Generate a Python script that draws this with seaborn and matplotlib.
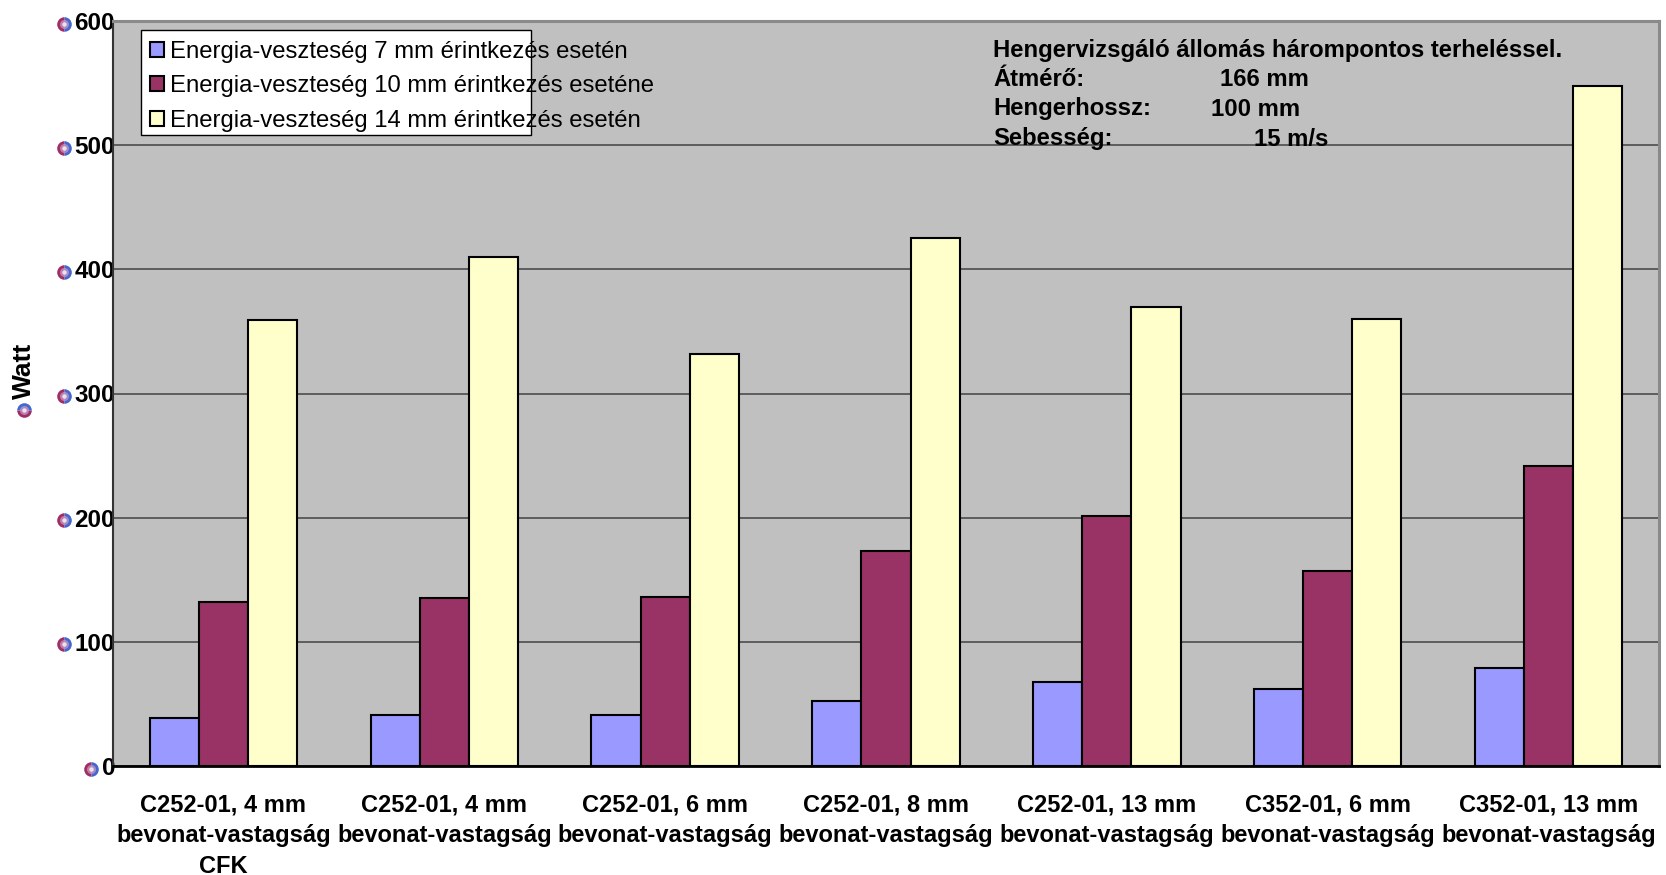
import matplotlib
matplotlib.use("Agg")
import matplotlib.pyplot as plt
from matplotlib.lines import Line2D
from matplotlib.patches import Rectangle
import seaborn as sns
import pandas as pd

# ---- data -------------------------------------------------------------
categories = [
    "C252-01, 4 mm\nbevonat-vastagság\nCFK",
    "C252-01, 4 mm\nbevonat-vastagság",
    "C252-01, 6 mm\nbevonat-vastagság",
    "C252-01, 8 mm\nbevonat-vastagság",
    "C252-01, 13 mm\nbevonat-vastagság",
    "C352-01, 6 mm\nbevonat-vastagság",
    "C352-01, 13 mm\nbevonat-vastagság",
]
series_names = [
    "Energia-veszteség 7 mm érintkezés esetén",
    "Energia-veszteség 10 mm érintkezés eseténe",
    "Energia-veszteség 14 mm érintkezés esetén",
]
loss_7mm = [39, 41, 41, 52, 68, 62, 79]
loss_10mm = [132, 135, 136, 173, 201, 157, 242]
loss_14mm = [359, 410, 332, 425, 370, 360, 548]
y_ticks = [0, 100, 200, 300, 400, 500, 600]
colors = ["#9999FF", "#993366", "#FFFFCC"]

info_lines = [
    ("Hengervizsgáló állomás hárompontos terheléssel.", ""),
    ("Átmérő:", "166 mm"),
    ("Hengerhossz:", "100 mm"),
    ("Sebesség:", "15 m/s"),
]

rows = []
for name, vals in zip(series_names, [loss_7mm, loss_10mm, loss_14mm]):
    for cat, v in zip(categories, vals):
        rows.append({"kategoria": cat, "sorozat": name, "Watt": v})
df = pd.DataFrame(rows)

# ---- style ------------------------------------------------------------
sns.set_style("white")
plt.rcParams["font.family"] = ["Liberation Sans", "DejaVu Sans"]
for key in ("text.color", "axes.labelcolor", "xtick.color", "ytick.color"):
    plt.rcParams[key] = "black"

W, H = 1666, 875
fig = plt.figure(figsize=(W / 100, H / 100), dpi=100)
ax_l, ax_r, ax_t, ax_b = 113, 1659, 21, 766
ax = fig.add_axes([ax_l / W, 1 - ax_b / H, (ax_r - ax_l) / W, (ax_b - ax_t) / H])
ax.set_facecolor("#C0C0C0")

sns.barplot(
    data=df, x="kategoria", y="Watt", hue="sorozat",
    order=categories, hue_order=series_names, palette=colors,
    width=0.667, gap=0, edgecolor="black", linewidth=1.5,
    saturation=1, ax=ax, legend=False, errorbar=None,
)

ax.set_xlim(-0.5, len(categories) - 0.5)
ax.set_ylim(0, 600)
ax.set_yticks(y_ticks)
ax.yaxis.grid(True, color="#555555", linewidth=1.3)
ax.set_axisbelow(True)

# spines
for side in ("top", "right"):
    ax.spines[side].set_color("#8A8A8A")
    ax.spines[side].set_linewidth(2.2)
ax.spines["left"].set_color("#333333")
ax.spines["left"].set_linewidth(1.5)
ax.spines["bottom"].set_color("black")
ax.spines["bottom"].set_linewidth(2)

# ticks and labels
ax.set_xlabel("")
ax.set_xticks(range(len(categories)))
ax.set_xticklabels(categories, fontsize=17, fontweight="bold", linespacing=1.45)
ax.tick_params(axis="x", which="major", length=0, pad=19.5)
ax.set_xticks([i - 0.5 for i in range(len(categories) + 1)], minor=True)
ax.tick_params(axis="x", which="minor", length=6, width=1.2, color="black",
               direction="out")
ax.set_yticklabels([str(t) for t in y_ticks], fontsize=17.5, fontweight="bold")
ax.tick_params(axis="y", length=0, pad=-1.5)

ax.set_ylabel("Watt", fontsize=19, fontweight="bold")
ax.yaxis.set_label_coords(-0.0575, 0.530)
ax.yaxis.label.set_va("center")

# legend box with entries
ax.add_patch(Rectangle((0.0181, 0.847), 0.2523, 0.1409, transform=ax.transAxes,
                       facecolor="white", edgecolor="black", linewidth=1.0,
                       zorder=4))
handles = [Rectangle((0, 0), 1, 1, facecolor=c, edgecolor="black", linewidth=1.5)
           for c in colors]
leg = ax.legend(handles, series_names, loc="upper left",
                bbox_to_anchor=(0.0239, 0.9735), frameon=False,
                fontsize=17.2, handlelength=0.58, handleheight=0.58,
                handletextpad=0.28, labelspacing=0.52, borderpad=0,
                borderaxespad=0)
leg.set_zorder(5)

# test setup description
label_x = 993
value_x = [None, 1220, 1211, 1254]
line_y = [50, 79, 109, 139]
for (lab, val), vx, ly in zip(info_lines, value_x, line_y):
    fig.text(label_x / W, 1 - ly / H, lab, fontsize=17.2, fontweight="bold",
             va="center", ha="left")
    if val:
        fig.text(vx / W, 1 - ly / H, val, fontsize=17.2, fontweight="bold",
                 va="center", ha="left")

# bullet spheres in front of the value labels and the axis title
fig.canvas.draw()
renderer = fig.canvas.get_renderer()
inv = fig.transFigure.inverted()


def sphere(px, py, split):
    fx, fy = inv.transform((px, py))
    fig.add_artist(Line2D([fx], [fy], marker="o", markersize=10.5,
                          fillstyle=split, markerfacecolor="#A02E66",
                          markerfacecoloralt="#4466D0", markeredgewidth=0,
                          transform=fig.transFigure))
    fig.add_artist(Line2D([fx], [fy], marker="o", markersize=6.5,
                          color="#C79AC0", alpha=0.75, markeredgewidth=0,
                          transform=fig.transFigure))
    fig.add_artist(Line2D([fx], [fy], marker="o", markersize=3.2,
                          color="#F4ECF2", alpha=0.9, markeredgewidth=0,
                          transform=fig.transFigure))


for lbl in ax.get_yticklabels():
    bb = lbl.get_window_extent(renderer)
    sphere(bb.x0 - 11, (bb.y0 + bb.y1) / 2, "left")

bb = ax.yaxis.label.get_window_extent(renderer)
sphere((bb.x0 + bb.x1) / 2, bb.y0 - 11, "bottom")

fig.savefig("out.png", dpi=100)
